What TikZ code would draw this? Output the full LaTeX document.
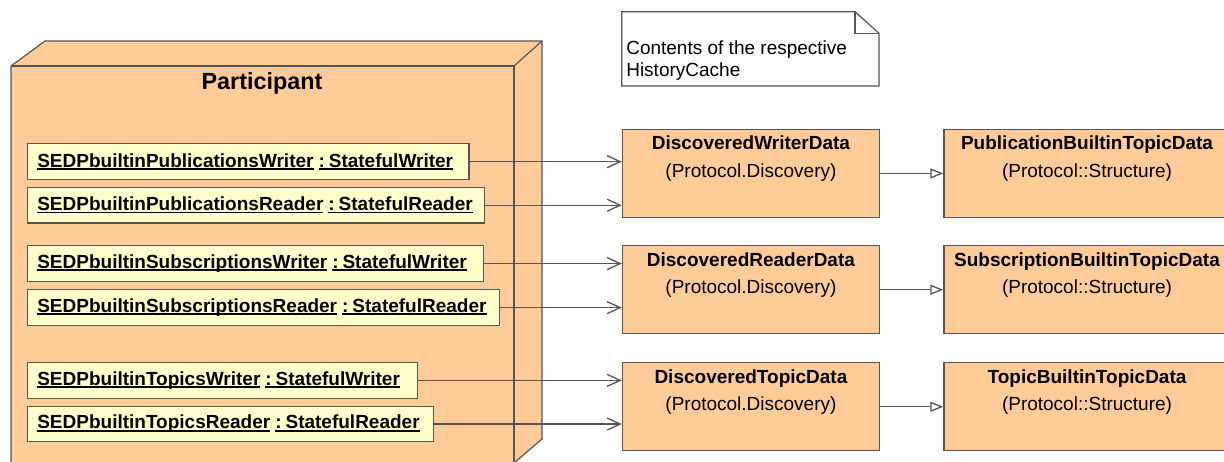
\documentclass[tikz,border=0pt]{standalone}
\usepackage{fontspec}
\setmainfont{Liberation Sans}
\usetikzlibrary{arrows.meta,calc}
\definecolor{peach}{RGB}{255,204,153}
\definecolor{lyel}{RGB}{255,255,204}
\definecolor{edgec}{RGB}{85,85,85}
\newcommand\uln[1]{\sbox0{#1}\rlap{\rule[-2.6pt]{\wd0}{1.7pt}}\usebox0}
\newcommand\objtext[3]{\makebox[#1][l]{\uln{#2}\hspace{5pt}\uln{:\hspace{4pt}#3}}}
\begin{document}
\begin{tikzpicture}[x=1pt,y=-1pt,line width=1.2pt,
  objbox/.style={draw=edgec,fill=lyel,anchor=north west,minimum height=35.5pt,
    inner xsep=10pt,inner ysep=0pt,
    font=\fontsize{19}{22}\selectfont\bfseries},
  clsbox/.style={draw=edgec,fill=peach,anchor=north west,minimum height=87.7pt,
    minimum width=#1,inner sep=0pt},
  ttl/.style={anchor=base,inner sep=0pt,font=\fontsize{19}{22}\selectfont\bfseries},
  sub/.style={anchor=base,inner sep=0pt,font=\fontsize{19}{22}\selectfont},
  notetxt/.style={anchor=base west,inner sep=0pt,font=\fontsize{19}{22}\selectfont},
  assoc/.style={draw=edgec,line width=1.3pt,-{Straight Barb[length=13pt,width=12pt]}},
  gen/.style={draw=edgec,line width=1.3pt,-{Triangle[open,length=13pt,width=10pt,fill=white]}}]
\useasboundingbox (0,0) rectangle (1224,462);
% Participant cube
\draw[draw=edgec,fill=peach,line join=miter] (11,66) -- (45,41) -- (542,41) -- (542,439) -- (514,463) -- (11,463) -- cycle;
\draw[draw=edgec,line join=miter] (11,66) -- (514,66) -- (514,470);
\draw[draw=edgec] (514,66) -- (542,41);
\node[anchor=base,inner sep=0pt,font=\fontsize{23.4}{26}\selectfont\bfseries] (ptitle) at (262,90) {Participant};
% inner objects
\node[objbox] (b1) at (26.7,143.3) {\objtext{421.6pt}{SEDPbuiltinPublicationsWriter}{StatefulWriter}};
\node[objbox] (b2) at (26.7,186.9) {\objtext{437.3pt}{SEDPbuiltinPublicationsReader}{StatefulReader}};
\node[objbox] (b3) at (26.7,245.2) {\objtext{436pt}{SEDPbuiltinSubscriptionsWriter}{StatefulWriter}};
\node[objbox] (b4) at (26.7,289.3) {\objtext{452pt}{SEDPbuiltinSubscriptionsReader}{StatefulReader}};
\node[objbox] (b5) at (26.7,362) {\objtext{370pt}{SEDPbuiltinTopicsWriter}{StatefulWriter}};
\node[objbox] (b6) at (26.7,405.7) {\objtext{386pt}{SEDPbuiltinTopicsReader}{StatefulReader}};
% note
\draw[draw=edgec,fill=white,line join=miter] (621.7,11.7) -- (855,11.7) -- (879,33.3) -- (879,86) -- (621.7,86) -- cycle;
\draw[draw=edgec,line join=miter] (855,11.7) -- (855,33.3) -- (879,33.3);
\node[notetxt] (n1) at (625.7,55) {Contents of the respective};
\node[notetxt] (n2) at (625.7,76.7) {HistoryCache};
% middle classes
\node[clsbox=257.3pt] (m1) at (621.7,129) {};
\node[clsbox=257.3pt] (m2) at (621.7,245.3) {};
\node[clsbox=257.3pt] (m3) at (621.7,362.3) {};
\node[ttl] (m1t) at ($(m1.north)+(0,21)$) {DiscoveredWriterData};
\node[sub] (m1s) at ($(m1.north)+(0,48.4)$) {(Protocol.Discovery)};
\node[ttl] (m2t) at ($(m2.north)+(0,21)$) {DiscoveredReaderData};
\node[sub] (m2s) at ($(m2.north)+(0,48.4)$) {(Protocol.Discovery)};
\node[ttl] (m3t) at ($(m3.north)+(0,21)$) {DiscoveredTopicData};
\node[sub] (m3s) at ($(m3.north)+(0,48.4)$) {(Protocol.Discovery)};
% right classes
\node[clsbox=288pt] (r1) at (943.3,129) {};
\node[clsbox=288pt] (r2) at (943.3,245.3) {};
\node[clsbox=288pt] (r3) at (943.3,362.3) {};
\node[ttl] (r1t) at (1087,150) {PublicationBuiltinTopicData};
\node[sub] (r1s) at (1087,177.4) {(Protocol::Structure)};
\node[ttl] (r2t) at (1087,266.3) {SubscriptionBuiltinTopicData};
\node[sub] (r2s) at (1087,293.7) {(Protocol::Structure)};
\node[ttl] (r3t) at (1087,383.3) {TopicBuiltinTopicData};
\node[sub] (r3s) at (1087,410.7) {(Protocol::Structure)};
% connectors
\draw[assoc] (b1.east) -- (b1.east -| m1.west);
\draw[assoc] (b2.east) -- (b2.east -| m1.west);
\draw[assoc] (b3.east) -- (b3.east -| m2.west);
\draw[assoc] (b4.east) -- (b4.east -| m2.west);
\draw[assoc] (b5.east) -- (b5.east -| m3.west);
\draw[assoc] (b6.east) -- (b6.east -| m3.west);
\draw[gen] (m1.east) -- (m1.east -| r1.west);
\draw[gen] (m2.east) -- (m2.east -| r2.west);
\draw[gen] (m3.east) -- (m3.east -| r3.west);
\end{tikzpicture}
\end{document}
